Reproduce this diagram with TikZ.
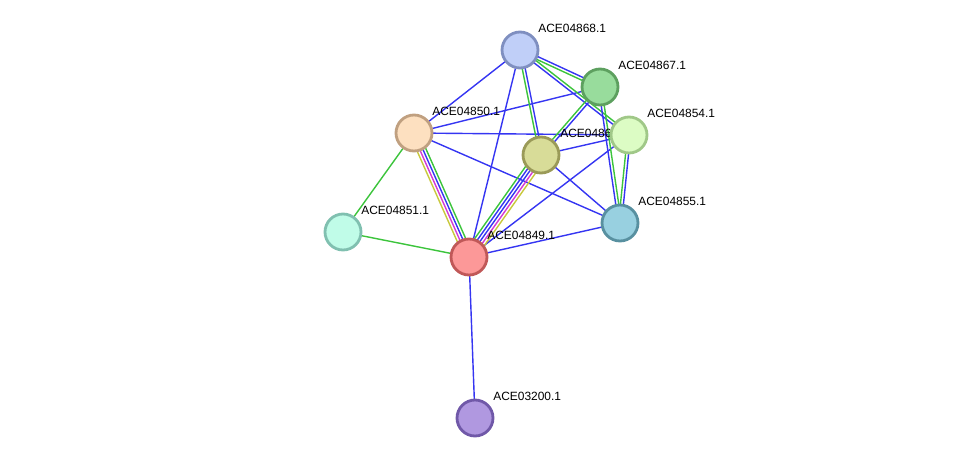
\documentclass[tikz,border=0pt]{standalone}
\usepackage{fontspec}
\setmainfont{Liberation Sans}
\usetikzlibrary{calc,backgrounds}
\definecolor{cblue}{HTML}{3535F2}
\definecolor{cgreen}{HTML}{3CC43C}
\definecolor{cmagenta}{HTML}{D43AD4}
\definecolor{cyellow}{HTML}{C8C83C}
\tikzset{
  prot/.style={circle,draw,line width=1.6pt,minimum size=0.72cm,inner sep=0pt},
  lbl/.style={anchor=west,inner sep=0pt,font=\fontsize{6.8}{8}\selectfont},
  edge/.style={line width=0.8pt}
}
% parallel lines between two nodes: colour/offset pairs
\newcommand{\bundle}[3]{%
  \foreach \c/\o in {#3}
    \draw[edge,\c] ($(#1)!\o!90:(#2)$) -- ($(#2)!\o!-90:(#1)$);}
\begin{document}
\begin{tikzpicture}[x=0.02cm,y=-0.02cm]
\useasboundingbox (0,0) rectangle (976,463);
% proteins and their labels
\node[prot,fill={rgb,255:red,176;green,152;blue,224},draw={rgb,255:red,112;green,88;blue,168}] (p3200) at (475,418) {};
\node[lbl] (l3200) at ($(p3200)+(18,-22)$) {ACE03200.1};
\node[prot,fill={rgb,255:red,192;green,252;blue,232},draw={rgb,255:red,128;green,192;blue,176}] (p851) at (343,232) {};
\node[lbl] (l851) at ($(p851)+(18,-22)$) {ACE04851.1};
\node[prot,fill={rgb,255:red,252;green,152;blue,152},draw={rgb,255:red,192;green,88;blue,88}] (p849) at (469,257) {};
\node[lbl] (l849) at ($(p849)+(18,-22)$) {ACE04849.1};
\node[prot,fill={rgb,255:red,152;green,208;blue,224},draw={rgb,255:red,88;green,144;blue,160}] (p855) at (620,223) {};
\node[lbl] (l855) at ($(p855)+(18,-22)$) {ACE04855.1};
\node[prot,fill={rgb,255:red,253;green,224;blue,192},draw={rgb,255:red,192;green,160;blue,128}] (p850) at (414,133) {};
\node[lbl] (l850) at ($(p850)+(18,-22)$) {ACE04850.1};
\node[prot,fill={rgb,255:red,192;green,207;blue,248},draw={rgb,255:red,127;green,143;blue,192}] (p868) at (520,50) {};
\node[lbl] (l868) at ($(p868)+(18,-22)$) {ACE04868.1};
\node[prot,fill={rgb,255:red,216;green,220;blue,152},draw={rgb,255:red,154;green,154;blue,88}] (p866) at (541,155) {};
\node[lbl] (l866) at ($(p866)+(19,-22)$) {ACE04866.1};
\node[prot,fill={rgb,255:red,152;green,220;blue,156},draw={rgb,255:red,93;green,160;blue,95}] (p867) at (600,87) {};
\node[lbl] (l867) at ($(p867)+(18,-22)$) {ACE04867.1};
\node[prot,fill={rgb,255:red,220;green,252;blue,196},draw={rgb,255:red,160;green,200;blue,136}] (p854) at (629,135) {};
\node[lbl] (l854) at ($(p854)+(18,-22)$) {ACE04854.1};
% interactions
\begin{pgfonlayer}{background}
\bundle{p868}{p850}{cblue/0pt}
\bundle{p868}{p849}{cblue/0pt}
\bundle{p867}{p850}{cblue/0pt}
\bundle{p850}{p854}{cblue/0pt}
\bundle{p850}{p855}{cblue/0pt}
\bundle{p866}{p854}{cblue/0pt}
\bundle{p866}{p855}{cblue/0pt}
\bundle{p849}{p855}{cblue/0pt}
\bundle{p849}{p854}{cblue/0pt}
\bundle{p849}{p3200}{cblue/0pt}
\bundle{p850}{p851}{cgreen/0pt}
\bundle{p851}{p849}{cgreen/0pt}
\bundle{p868}{p866}{cgreen/-0.85pt,cblue/0.85pt}
\bundle{p868}{p867}{cgreen/-0.85pt,cblue/0.85pt}
\bundle{p868}{p854}{cblue/-0.85pt,cgreen/0.85pt}
\bundle{p867}{p866}{cgreen/-0.85pt,cblue/0.85pt}
\bundle{p867}{p855}{cblue/-0.85pt,cgreen/0.85pt}
\bundle{p854}{p855}{cgreen/-0.85pt,cblue/0.85pt}
\bundle{p850}{p849}{cyellow/-2.55pt,cmagenta/-0.85pt,cblue/0.85pt,cgreen/2.55pt}
\bundle{p866}{p849}{cgreen/-3.4pt,cblue/-1.7pt,cblue/0pt,cmagenta/1.7pt,cyellow/3.4pt}
\end{pgfonlayer}
\end{tikzpicture}
\end{document}
